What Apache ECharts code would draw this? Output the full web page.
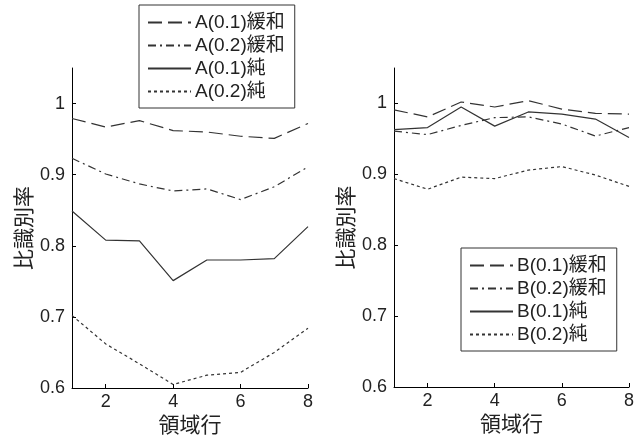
<!DOCTYPE html>
<html><head><meta charset="utf-8">
<script src="https://cdn.jsdelivr.net/npm/echarts@6/dist/echarts.min.js"></script>
<style>html,body{margin:0;padding:0;background:#fff}#c{width:644px;height:443px}</style>
</head><body><div id="c"></div>
<script>
var xs = [1,2,3,4,5,6,7,8];
var yTicks = [0.6,0.7,0.8,0.9,1];
var xTicks = [2,4,6,8];
var namesA = ['A(0.1)緩和','A(0.2)緩和','A(0.1)純','A(0.2)純'];
var namesB = ['B(0.1)緩和','B(0.2)緩和','B(0.1)純','B(0.2)純'];
var a01k = [0.979,0.967,0.976,0.962,0.960,0.954,0.951,0.972];
var a02k = [0.923,0.901,0.887,0.877,0.880,0.865,0.883,0.911];
var a01j = [0.849,0.808,0.807,0.751,0.780,0.780,0.782,0.827];
var a02j = [0.702,0.662,0.634,0.605,0.618,0.622,0.650,0.684];
var b01k = [0.991,0.981,1.002,0.995,1.004,0.992,0.986,0.985];
var b02k = [0.961,0.956,0.969,0.980,0.981,0.971,0.954,0.966];
var b01j = [0.963,0.966,0.995,0.968,0.988,0.985,0.978,0.952];
var b02j = [0.894,0.879,0.896,0.894,0.906,0.911,0.899,0.883];

var FONT = '"Liberation Sans","Noto Sans CJK JP",sans-serif';
var TXT = '#222';
var LC = '#333';
var dashes = [[14,6],[8,4,2,4],'solid',[3,3]];

function pairs(v){ return xs.map(function(x,i){ return [x, v[i]]; }); }
function mkSeries(names, arrs, idx){
  return names.map(function(n,i){
    return {name:n, type:'line', xAxisIndex:idx, yAxisIndex:idx, data:pairs(arrs[i]),
      symbol:'none', showSymbol:false, animation:false,
      lineStyle:{color:LC, width:1.2, type:dashes[i]}, itemStyle:{color:LC}};
  });
}
function xAx(idx){
  return {type:'value', gridIndex:idx, min:1, max:8, name:'領域行', nameLocation:'middle', nameGap:20,
    nameTextStyle:{fontFamily:FONT, fontSize:21, color:TXT},
    axisLine:{show:true, lineStyle:{color:'#000', width:1}},
    axisTick:{show:true, inside:true, length:4, customValues:xTicks, lineStyle:{color:'#000'}},
    axisLabel:{customValues:xTicks, fontFamily:FONT, fontSize:18, color:TXT, margin:5},
    splitLine:{show:false}};
}
function yAx(idx){
  return {type:'value', gridIndex:idx, min:0.6, max:1.05, name:'比識別率', nameLocation:'middle', nameGap:23,
    nameTextStyle:{fontFamily:FONT, fontSize:21, color:TXT},
    axisLine:{show:true, lineStyle:{color:'#000', width:1}},
    axisTick:{show:true, inside:true, length:4, customValues:yTicks, lineStyle:{color:'#000'}},
    axisLabel:{customValues:yTicks, fontFamily:FONT, fontSize:18, color:TXT, margin:7},
    splitLine:{show:false}};
}
function legend(names, left, top){
  return {data:names, orient:'vertical', left:left, top:top, width:157, height:89,
    backgroundColor:'#fff', borderColor:'#333', borderWidth:1, borderRadius:0,
    padding:[8,10,7,8], itemGap:4, itemWidth:43, itemHeight:14,
    itemStyle:{color:'rgba(0,0,0,0)', borderWidth:0, opacity:0},
    textStyle:{fontFamily:FONT, fontSize:19, lineHeight:19, color:TXT, padding:[0,0,0,-1]}, selectedMode:false};
}
var chart = echarts.init(document.getElementById('c'), null, {renderer:'canvas'});
chart.setOption({
  animation:false,
  backgroundColor:'#fff',
  grid:[{left:72, right:336, top:68, bottom:55},{left:394, right:15, top:68, bottom:56}],
  xAxis:[xAx(0), xAx(1)],
  yAxis:[yAx(0), yAx(1)],
  legend:[legend(namesA, 139, 5), legend(namesB, 461, 248)],
  series: mkSeries(namesA,[a01k,a02k,a01j,a02j],0).concat(mkSeries(namesB,[b01k,b02k,b01j,b02j],1))
});
</script></body></html>
